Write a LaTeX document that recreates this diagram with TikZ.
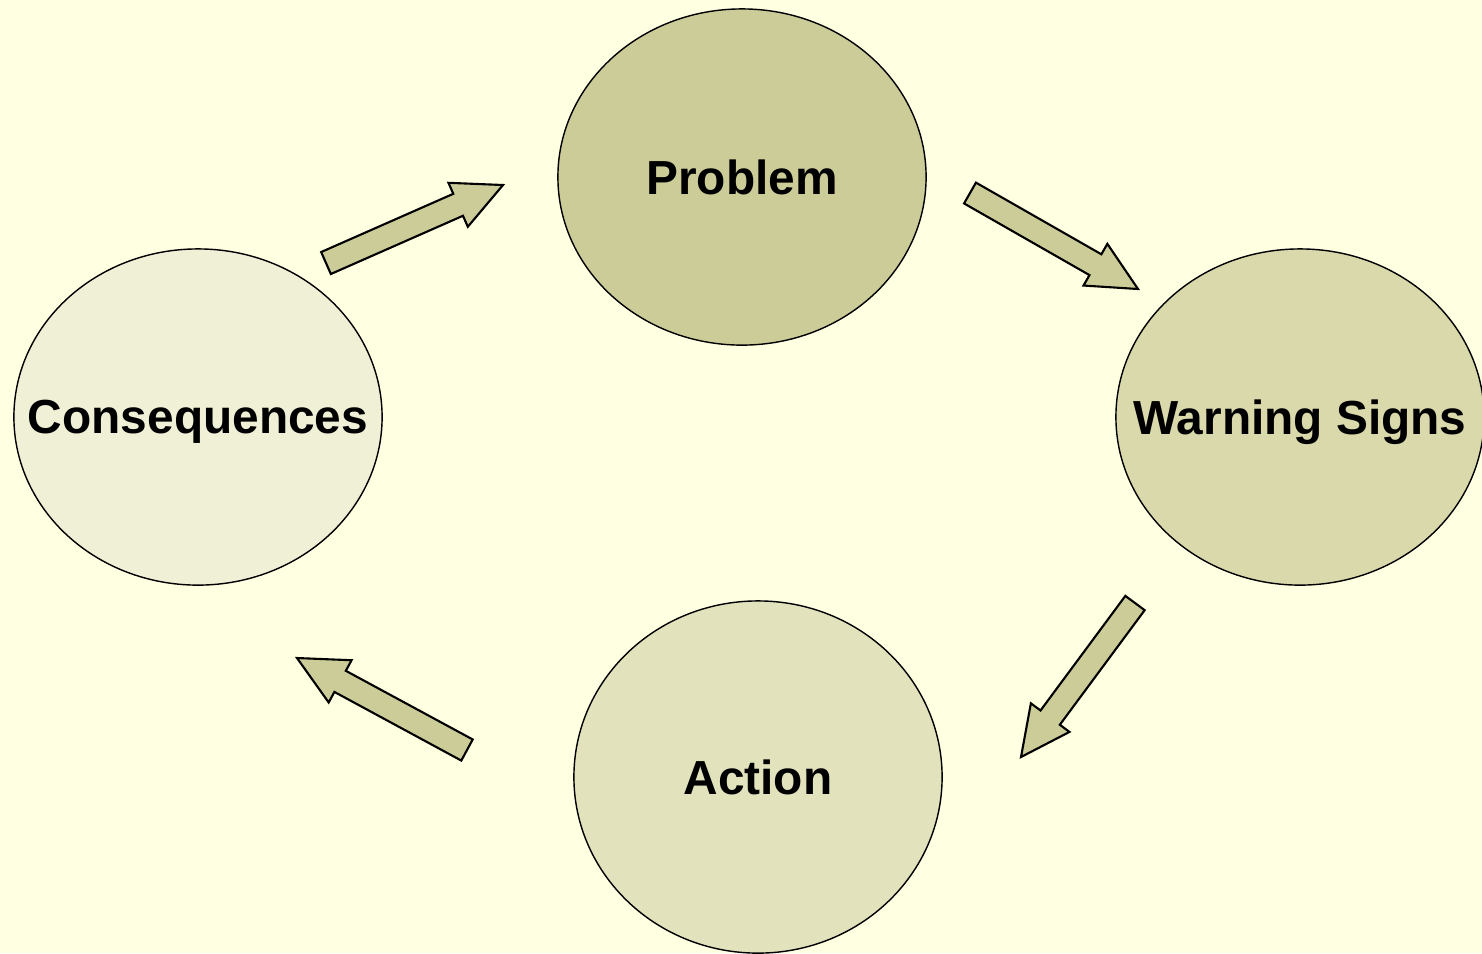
\documentclass[tikz,border=0pt]{standalone}
\usepackage{fontspec}
\setmainfont{Liberation Sans}
\usetikzlibrary{shapes.geometric,calc}
\definecolor{pagebg}{HTML}{FFFFE1}
\definecolor{olive1}{HTML}{CCCC99}
\definecolor{olive2}{HTML}{D9D9AB}
\definecolor{olive3}{HTML}{E2E2BD}
\definecolor{olive4}{HTML}{F0F0D7}

\tikzset{
	stage/.style={ellipse, draw, thin, inner sep=0pt, minimum width=3.68cm, minimum height=3.36cm,
		text depth=0pt, font=\fontsize{13.6}{16}\selectfont\bfseries},
	blockarrow/.style={draw, fill=olive1, line width=0.6pt, line join=miter}
}

% zero-width label so the ellipse keeps its size
\newcommand{\stagename}[1]{\makebox[0pt]{#1}}

% block arrow from tail #1 to tip #2
\newcommand{\cyclearrow}[2]{%
	\coordinate (hb) at ($(#2)!0.49cm!(#1)$);
	\draw[blockarrow] ($(#1)!0.12cm!90:(#2)$) -- ($(hb)!0.12cm!90:(#2)$) -- ($(hb)!0.24cm!90:(#2)$)
		-- (#2) -- ($(hb)!0.24cm!-90:(#2)$) -- ($(hb)!0.12cm!-90:(#2)$) -- ($(#1)!0.12cm!-90:(#2)$) -- cycle;
}

\begin{document}
\begin{tikzpicture}[x=0.01cm, y=-0.01cm]
	\fill[pagebg] (0,0) rectangle (1482,953);
	\useasboundingbox (0,0) rectangle (1482,953);

	% The four stages
	\node[stage, fill=olive1] (problem) at (742,177) {\stagename{Problem}};
	\node[stage, fill=olive2] (warning) at (1300,417) {\stagename{Warning Signs}};
	\node[stage, fill=olive3, minimum height=3.52cm] (action) at (758,777) {\stagename{Action}};
	\node[stage, fill=olive4] (conseq) at (198,417) {\stagename{Consequences}};

	% Arrow ends
	\coordinate (cons-out) at (326,263);
	\coordinate (prob-in) at (503,185);
	\coordinate (prob-out) at (970,193);
	\coordinate (warn-in) at (1138,289);
	\coordinate (warn-out) at (1135,603);
	\coordinate (act-in) at (1021,757);
	\coordinate (act-out) at (467,750);
	\coordinate (cons-in) at (297,658);

	% Cycle arrows
	\cyclearrow{cons-out}{prob-in}
	\cyclearrow{prob-out}{warn-in}
	\cyclearrow{warn-out}{act-in}
	\cyclearrow{act-out}{cons-in}
\end{tikzpicture}
\end{document}
